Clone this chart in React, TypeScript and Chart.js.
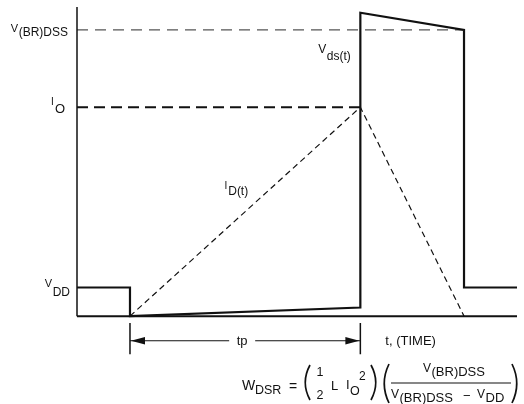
import React, { useEffect, useRef } from 'react';
import { Chart, registerables } from 'chart.js';

Chart.register(...registerables);

// ---- data (time in arbitrary units with tp = 10; levels normalised so V(BR)DSS = 100) ----
const timeRange = [-2.3, 16.8];
const levelRange = [-30, 108];

const vdsTimes = [-2.3, 0, 0, 10, 10, 14.5, 14.5, 16.8];
const vdsLevels = [10, 10, 0, 3, 106, 100, 10, 10];

const idTimes = [0, 10, 14.5];
const idLevels = [0, 73, 0];

const refNames = ['V(BR)DSS', 'IO', 'VDD'];
const refLevels = [100, 73, 10];
const refEndTimes = [14.5, 10, 0];

const axisTop = 108;
const tpTimes = [0, 10];
const tpTickLevels = [-2.4, -13.3];
const tpArrowLevel = -8.6;

const INK = '#111';
const FONT = "'Liberation Sans', Arial, Helvetica, sans-serif";
const f = (s: number) => `${s}px ${FONT}`;

function txt(ctx: CanvasRenderingContext2D, s: string, x: number, y: number, size: number, align: CanvasTextAlign = 'left') {
  ctx.font = f(size);
  ctx.textAlign = align;
  ctx.textBaseline = 'alphabetic';
  ctx.fillText(s, x, y);
  return ctx.measureText(s).width;
}

// main letter + subscript; align right means whole group ends at x
function subLabel(
  ctx: CanvasRenderingContext2D,
  main: string,
  sub: string,
  x: number,
  mainBase: number,
  subBase: number,
  mainSize: number,
  subSize: number,
  align: 'left' | 'right',
  gap = 0.5
) {
  ctx.font = f(mainSize);
  const wm = ctx.measureText(main).width;
  ctx.font = f(subSize);
  const ws = ctx.measureText(sub).width;
  const x0 = align === 'left' ? x : x - (wm + gap + ws);
  txt(ctx, main, x0, mainBase, mainSize);
  txt(ctx, sub, x0 + wm + gap, subBase, subSize);
}

function paren(ctx: CanvasRenderingContext2D, x: number, top: number, bottom: number, open: boolean) {
  const w = 5;
  const mid = (top + bottom) / 2;
  ctx.beginPath();
  if (open) {
    ctx.moveTo(x + w, top);
    ctx.quadraticCurveTo(x - w * 0.9, mid, x + w, bottom);
  } else {
    ctx.moveTo(x, top);
    ctx.quadraticCurveTo(x + w * 1.9, mid, x, bottom);
  }
  ctx.lineWidth = 1.7;
  ctx.strokeStyle = INK;
  ctx.stroke();
}

const annotationPlugin = {
  id: 'annotations',
  afterDatasetsDraw(chart: any) {
    const ctx: CanvasRenderingContext2D = chart.ctx;
    const xs = chart.scales.x;
    const ys = chart.scales.y;
    const px = (t: number) => xs.getPixelForValue(t);
    const py = (v: number) => ys.getPixelForValue(v);
    ctx.save();
    ctx.fillStyle = INK;

    const axisX = px(timeRange[0]);
    // reference level labels
    const yBR = py(refLevels[0]);
    subLabel(ctx, 'V', '(BR)DSS', axisX - 9, yBR + 2, yBR + 6, 11, 12, 'right');
    const yIO = py(refLevels[1]);
    subLabel(ctx, 'I', 'O', axisX - 12, yIO - 2, yIO + 6, 10, 13, 'right', 1);
    const yDD = py(refLevels[2]);
    subLabel(ctx, 'V', 'DD', axisX - 7, yDD - 1, yDD + 8, 11, 12, 'right');

    // waveform labels
    const xJump = px(vdsTimes[3]);
    subLabel(ctx, 'V', 'ds(t)', xJump - 42, yBR + 23, yBR + 30, 12, 12, 'left');
    const xId = px(4.1);
    const yId = py(44);
    subLabel(ctx, 'I', 'D(t)', xId, yId - 1, yId + 5, 10, 12, 'left', 1);

    // tp dimension arrow heads + label
    const ya = py(tpArrowLevel);
    const xl = px(tpTimes[0]);
    const xr = px(tpTimes[1]);
    ctx.beginPath();
    ctx.moveTo(xl + 1, ya);
    ctx.lineTo(xl + 15, ya - 3.8);
    ctx.lineTo(xl + 15, ya + 3.8);
    ctx.closePath();
    ctx.fill();
    ctx.beginPath();
    ctx.moveTo(xr - 1, ya);
    ctx.lineTo(xr - 15, ya - 3.8);
    ctx.lineTo(xr - 15, ya + 3.8);
    ctx.closePath();
    ctx.fill();
    const xm = (xl + xr) / 2 - 3;
    ctx.fillStyle = '#fff';
    ctx.fillRect(xm - 13, ya - 6, 26, 12);
    ctx.fillStyle = INK;
    txt(ctx, 'tp', xm, ya + 4, 13, 'center');

    // time axis label
    txt(ctx, 't, (TIME)', xr + 25, ya + 4, 13);

    // energy formula
    const fx = 242;
    const fb = 390;
    txt(ctx, 'W', fx, fb, 14);
    txt(ctx, 'DSR', fx + 13, fb + 4, 12.5);
    txt(ctx, '=', fx + 47, fb + 1, 14);
    paren(ctx, fx + 63, fb - 25, fb + 10, true);
    txt(ctx, '1', fx + 78, fb - 14, 12.5, 'center');
    txt(ctx, '2', fx + 78, fb + 9, 12.5, 'center');
    txt(ctx, 'L', fx + 89, fb, 13);
    txt(ctx, 'I', fx + 104, fb - 1, 13);
    txt(ctx, 'O', fx + 108, fb + 5, 12.5);
    txt(ctx, '2', fx + 117, fb - 10, 12);
    paren(ctx, fx + 129, fb - 25, fb + 10, false);
    paren(ctx, fx + 142, fb - 26, fb + 13, true);
    // fraction
    ctx.beginPath();
    ctx.moveTo(fx + 149, fb - 7);
    ctx.lineTo(fx + 269, fb - 7);
    ctx.lineWidth = 1.1;
    ctx.strokeStyle = INK;
    ctx.stroke();
    subLabel(ctx, 'V', '(BR)DSS', fx + 181, fb - 18, fb - 14, 12, 13, 'left');
    subLabel(ctx, 'V', '(BR)DSS', fx + 149, fb + 8, fb + 12, 12, 13, 'left');
    txt(ctx, '\u2212', fx + 221, fb + 10, 13);
    subLabel(ctx, 'V', 'DD', fx + 235, fb + 8, fb + 12, 12, 13, 'left');
    paren(ctx, fx + 270, fb - 26, fb + 13, false);

    ctx.restore();
  },
};

function series(label: string, ts: number[], vs: number[], extra: any = {}) {
  return {
    label,
    data: ts.map((t, i) => ({ x: t, y: vs[i] })),
    showLine: true,
    borderColor: INK,
    backgroundColor: INK,
    borderWidth: 2,
    pointRadius: 0,
    pointHoverRadius: 0,
    fill: false,
    tension: 0,
    clip: false,
    borderJoinStyle: 'miter',
    borderCapStyle: 'butt',
    ...extra,
  };
}

export default function App() {
  const ref = useRef<HTMLCanvasElement>(null);
  useEffect(() => {
    const canvas = ref.current;
    if (!canvas) return;
    const refStyles = [
      { borderDash: [11, 7], borderColor: '#555', borderWidth: 1.3 },
      { borderDash: [11, 6], borderColor: INK, borderWidth: 2 },
    ];
    const datasets: any[] = [
      series('Vds(t)', vdsTimes, vdsLevels, { borderWidth: 2.2, order: 0 }),
      series('ID(t)', idTimes, idLevels, { borderDash: [6, 4], borderWidth: 1.2, order: 2 }),
      series(refNames[0], [timeRange[0], refEndTimes[0]], [refLevels[0], refLevels[0]], { ...refStyles[0], order: 3 }),
      series(refNames[1], [timeRange[0], refEndTimes[1]], [refLevels[1], refLevels[1]], { ...refStyles[1], order: 3 }),
      series('axis', [timeRange[0], timeRange[0]], [0, axisTop], { borderWidth: 1.5, order: 1 }),
      series('baseline', [timeRange[0], timeRange[1]], [0, 0], { borderWidth: 2, order: 1 }),
      series('tp start', [tpTimes[0], tpTimes[0]], tpTickLevels, { borderWidth: 1.5, order: 1 }),
      series('tp end', [tpTimes[1], tpTimes[1]], tpTickLevels, { borderWidth: 1.5, order: 1 }),
      series('tp', tpTimes, [tpArrowLevel, tpArrowLevel], { borderWidth: 1.2, order: 1 }),
    ];
    const chart = new Chart(canvas, {
      type: 'scatter',
      data: { datasets },
      options: {
        animation: false,
        responsive: false,
        devicePixelRatio: 1,
        events: [],
        layout: { padding: { left: 77, right: 7, top: 7, bottom: 2 } },
        plugins: { legend: { display: false }, tooltip: { enabled: false }, title: { display: false } },
        scales: {
          x: { type: 'linear', min: timeRange[0], max: timeRange[1], display: false },
          y: { type: 'linear', min: levelRange[0], max: levelRange[1], display: false },
        },
      },
      plugins: [annotationPlugin],
    } as any);
    return () => chart.destroy();
  }, []);
  return (
    <div style={{ position: 'fixed', left: 0, top: 0, width: 524, height: 404, background: '#fff' }}>
      <canvas ref={ref} width={524} height={404} style={{ display: 'block' }} />
    </div>
  );
}
